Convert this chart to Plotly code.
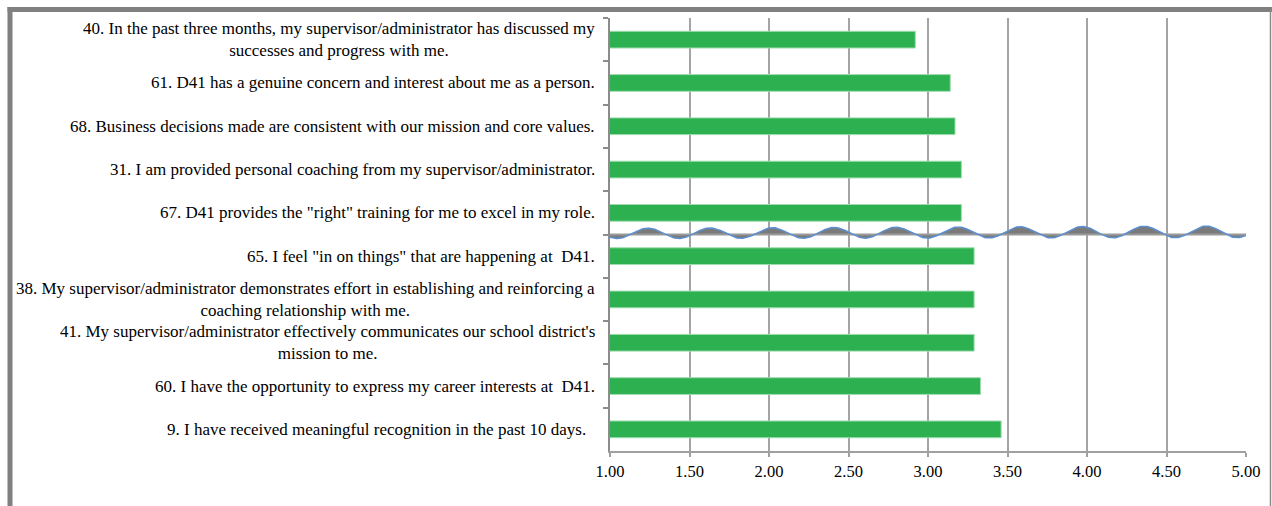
import numpy as np
import plotly.graph_objects as go

# ---------------- data ----------------
item_ids = ["Q40", "Q61", "Q68", "Q31", "Q67", "Q65", "Q38", "Q41", "Q60", "Q9"]
item_labels = [
    "40. In the past three months, my supervisor/administrator has discussed my<br>successes and progress with me.",
    "61. D41 has a genuine concern and interest about me as a person.",
    "68. Business decisions made are consistent with our mission and core values.",
    "31. I am provided personal coaching from my supervisor/administrator.",
    '67. D41 provides the "right" training for me to excel in my role.',
    '65. I feel "in on things" that are happening at \u00a0D41.',
    "38. My supervisor/administrator demonstrates effort in establishing and reinforcing a<br>coaching relationship with me.",
    "41. My supervisor/administrator effectively communicates our school district's<br>mission to me.",
    "60. I have the opportunity to express my career interests at \u00a0D41.",
    "9. I have received meaningful recognition in the past 10 days.\u00a0\u00a0",
]
mean_scores = [2.92, 3.14, 3.17, 3.21, 3.21, 3.29, 3.29, 3.29, 3.33, 3.46]
x_tick_values = [1.00, 1.50, 2.00, 2.50, 3.00, 3.50, 4.00, 4.50, 5.00]
break_after_index = 4  # decorative wavy "break" line sits below the 5th item

# ---------------- layout constants ----------------
FIG_W, FIG_H = 1272, 506
ML, MR, MT, MB = 610, 26, 18, 55
PW, PH = FIG_W - ML - MR, FIG_H - MT - MB
FONT = "Liberation Serif"
GREEN = "#2db150"
TEXT = "#000000"
n = len(item_ids)


def px_x(p):
    return (p - ML) / PW


def px_y(p):
    return (FIG_H - MB - p) / PH


fig = go.Figure()

fig.add_trace(go.Bar(
    x=mean_scores, y=item_ids, orientation="h",
    marker=dict(color=GREEN, line=dict(color="#9edcae", width=1)),
    hoverinfo="x", showlegend=False,
))

# decorative wave break (drawn on an overlay axis in category-index units)
wx = np.linspace(1.0, 5.0, 600)
t = (wx - 1.0) / 4.0
amp = 0.118 + 0.017 * t
off = 0.025 + 0.038 * t
yb = break_after_index + 0.5
wy = yb - (off + amp * np.cos(2 * np.pi * (wx - 1.2388) / 0.39))

fig.add_trace(go.Scatter(
    x=[1.0, 5.0], y=[yb, yb], yaxis="y2", mode="lines",
    line=dict(color="#9a9a9a", width=2), hoverinfo="skip", showlegend=False,
))
fig.add_trace(go.Scatter(
    x=wx, y=wy, yaxis="y2", mode="lines", fill="tonexty",
    fillcolor="#7a7a7a", line=dict(color="#5b8fd0", width=1.5),
    hoverinfo="skip", showlegend=False,
))

annotations = []
for cid, lab in zip(item_ids, item_labels):
    annotations.append(dict(
        x=0, xref="paper", xanchor="right", xshift=-13,
        y=cid, yref="y", yanchor="middle",
        text=lab, align="center", showarrow=False,
        font=dict(family=FONT, size=17, color=TEXT),
    ))

shapes = [
    dict(type="line", xref="paper", yref="paper",
         x0=px_x(10), x1=px_x(10), y0=px_y(7), y1=px_y(515),
         line=dict(color="#808080", width=5)),
    dict(type="line", xref="paper", yref="paper",
         x0=px_x(7.5), x1=px_x(1280), y0=px_y(9.5), y1=px_y(9.5),
         line=dict(color="#808080", width=5)),
    dict(type="line", xref="paper", yref="paper",
         x0=px_x(1270.5), x1=px_x(1270.5), y0=px_y(9.5), y1=px_y(515),
         line=dict(color="#8a8a8a", width=1.5)),
]

fig.update_layout(
    width=FIG_W, height=FIG_H,
    margin=dict(l=ML, r=MR, t=MT, b=MB, pad=0),
    paper_bgcolor="white", plot_bgcolor="white",
    bargap=0.614,
    showlegend=False,
    xaxis=dict(
        range=[1, 5], tickvals=x_tick_values, tickformat=".2f",
        showgrid=True, gridcolor="#a4a4a4", gridwidth=1.5,
        showline=True, linecolor="#a0a0a0", linewidth=1.5,
        ticks="outside", ticklen=4, tickcolor="#a0a0a0", tickwidth=1.5,
        tickfont=dict(family=FONT, size=16.5, color=TEXT),
        zeroline=False, fixedrange=True,
    ),
    yaxis=dict(
        type="category", categoryorder="array", categoryarray=item_ids,
        range=[n - 0.5, -0.5],
        showticklabels=False, showgrid=False,
        showline=True, linecolor="#8c8c8c", linewidth=1.5,
        ticks="outside", tickson="boundaries", ticklen=5,
        tickcolor="#8c8c8c", tickwidth=1.5, fixedrange=True,
    ),
    yaxis2=dict(
        overlaying="y", range=[n - 0.5, -0.5], visible=False,
        showgrid=False, zeroline=False, fixedrange=True,
    ),
    annotations=annotations,
    shapes=shapes,
)

fig.write_html("out.html")
